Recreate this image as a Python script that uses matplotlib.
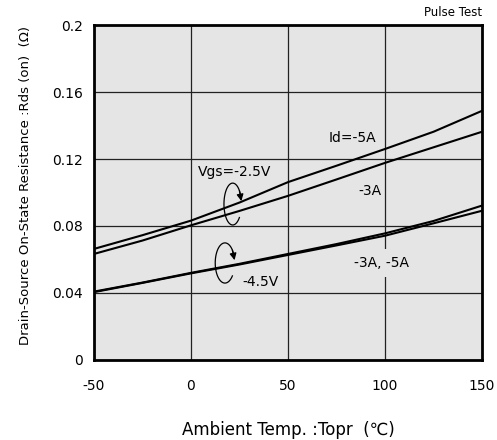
import matplotlib
matplotlib.use("Agg")
import matplotlib.pyplot as plt
import numpy as np

plt.rcParams['font.family'] = ['DejaVu Sans']

temps = [-50, -25, 0, 25, 50, 75, 100, 125, 150]
vgs25_id5 = [0.0663, 0.0745, 0.0832, 0.094, 0.1062, 0.116, 0.126, 0.1363, 0.1488]
vgs25_id3 = [0.0633, 0.0713, 0.0804, 0.0890, 0.0980, 0.1078, 0.1177, 0.1270, 0.1363]
vgs45_id5 = [0.0408, 0.0462, 0.0520, 0.0574, 0.0633, 0.0692, 0.0756, 0.0830, 0.0922]
vgs45_id3 = [0.0405, 0.0460, 0.0517, 0.0570, 0.0627, 0.0684, 0.0742, 0.0816, 0.0891]

xticks = [-50, 0, 50, 100, 150]
xticklabels = ['-50', '0', '50', '100', '150']
yticks = [0, 0.04, 0.08, 0.12, 0.16, 0.2]
yticklabels = ['0', '0.04', '0.08', '0.12', '0.16', '0.2']

bg = '#e5e5e5'
fig = plt.figure(figsize=(4.97, 4.40), dpi=100)
ax = fig.add_axes([0.189, 0.182, 0.781, 0.761])
ax.set_facecolor(bg)

for s in (vgs25_id5, vgs25_id3, vgs45_id5, vgs45_id3):
    ax.plot(temps, s, color='black', lw=1.5, zorder=3)

ax.set_xlim(-50, 150)
ax.set_ylim(0, 0.2)
ax.set_xticks(xticks)
ax.set_xticklabels(xticklabels)
ax.set_yticks(yticks)
ax.set_yticklabels(yticklabels)
ax.tick_params(length=0, labelsize=10)
ax.tick_params(axis='x', pad=14)
ax.tick_params(axis='y', pad=8)
ax.grid(True, color='#222222', lw=0.9, zorder=1)
ax.set_axisbelow(True)
for sp in ax.spines.values():
    sp.set_linewidth(2)

ax.set_xlabel('Ambient Temp. :Topr  (\u2103)', fontsize=12)
ax.xaxis.set_label_coords(0.5, -0.182)
ax.set_ylabel('Drain-Source On-State Resistance :Rds (on)  (\u03a9)', fontsize=9.5)
ax.yaxis.set_label_coords(-0.16, 0.52)

ax.text(1.0, 1.018, 'Pulse Test', transform=ax.transAxes, ha='right', va='bottom', fontsize=8.5)

ax.text(83, 0.1325, 'Id=-5A', ha='center', va='center', fontsize=10, zorder=4)
ax.text(92, 0.1009, '-3A', ha='center', va='center', fontsize=10, zorder=4)
ax.text(22.7, 0.1122, 'Vgs=-2.5V', ha='center', va='center', fontsize=10, zorder=4)
ax.text(98, 0.0579, '-3A, -5A', ha='center', va='center', fontsize=10, zorder=4,
        bbox=dict(facecolor=bg, edgecolor='none', pad=5))
ax.text(36, 0.0466, '-4.5V', ha='center', va='center', fontsize=10, zorder=4)

def loop(cx, cy, w, h):
    t = np.deg2rad(np.linspace(18, 320, 120))
    ax.plot(cx + w / 2 * np.cos(t), cy + h / 2 * np.sin(t), color='black', lw=0.9, zorder=5)
    ta, tb = np.deg2rad(40), np.deg2rad(8)
    ax.annotate('', xy=(cx + w / 2 * np.cos(tb), cy + h / 2 * np.sin(tb)),
                xytext=(cx + w / 2 * np.cos(ta), cy + h / 2 * np.sin(ta)),
                arrowprops=dict(arrowstyle='-|>', color='black', lw=0.9,
                                mutation_scale=10, shrinkA=0, shrinkB=0), zorder=5)

loop(21.5, 0.0931, 9.0, 0.025)
loop(17.5, 0.0579, 10.0, 0.024)

fig.savefig('out.png', dpi=100)
